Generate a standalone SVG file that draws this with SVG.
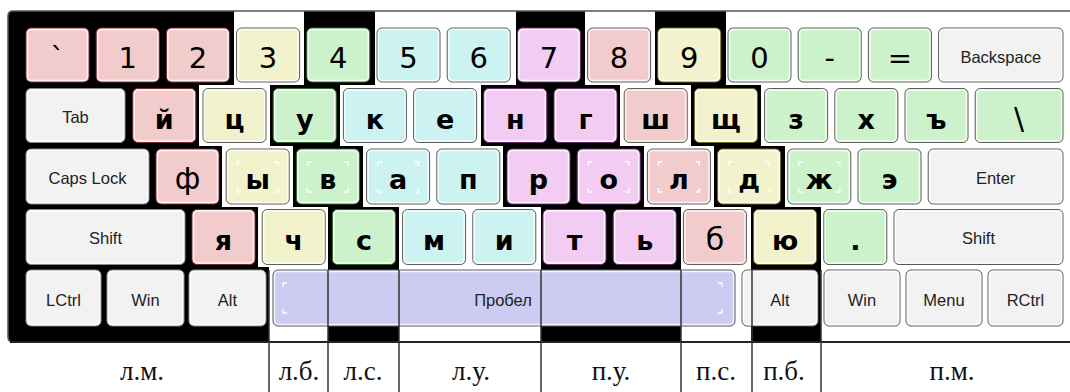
<svg xmlns="http://www.w3.org/2000/svg" width="1070" height="392" viewBox="0 0 1070 392">
<style>
.k{stroke:#5a5a5a;stroke-width:1}
.r{fill:#f2cccc}.y{fill:#f2f2cc}.g{fill:#ccf2cc}.c{fill:#ccf2f2}.m{fill:#f2ccf2}.w{fill:#f2f2f2}.s{fill:#ccccf2}
.bk.r{stroke:#7a2a2a}.bk.y{stroke:#6a6a20}.bk.g{stroke:#2a6a2a}.bk.m{stroke:#6a2a6a}.bk.w{stroke:#8a8a8a}
.in{fill:none;stroke:#fff;stroke-width:1.4;opacity:.8}
.d{font-family:"DejaVu Sans",Verdana,sans-serif;font-size:29px;fill:#000;text-anchor:middle}
.l{font-family:"DejaVu Sans",Verdana,sans-serif;font-size:27px;font-weight:bold;fill:#000;text-anchor:middle}
.lr{font-family:"DejaVu Sans",Verdana,sans-serif;font-size:30px;fill:#000;text-anchor:middle}
.t{font-family:"Liberation Sans",Arial,sans-serif;font-size:16.5px;fill:#222;text-anchor:middle}
.lab{font-family:"Liberation Serif","Times New Roman",serif;font-size:27px;fill:#111;text-anchor:middle}
.br{fill:none;stroke:#fff;stroke-width:1.3}
.sep{stroke:#333;stroke-width:1.5}
</style>
<g id="background">
<rect x="0" y="0" width="1070" height="392" fill="#fff"/>
<path d="M8,16 Q8,11 13,11 H234 V85 H199 V146 H222 V207 H258 V267 H269 V342 H13 Q8,342 8,337 Z" fill="#000"/>
<path d="M304,11 H375 V85 H340 V146 H363 V207 H399 V342 H328 V207 H293 V146 H270 V85 H304 Z" fill="#000"/>
<path d="M516,11 H585 V85 H620 V146 H644 V207 H681 V342 H541 V207 H503 V146 H481 V85 H516 Z" fill="#000"/>
<path d="M655,11 H726 V85 H761 V146 H785 V207 H821 V342 H751 V207 H714 V146 H691 V85 H655 Z" fill="#000"/>
<path d="M1070,11 H13 Q8,11 8,16 V337 Q8,342 13,342" fill="none" stroke="#555" stroke-width="1.5"/>
<line x1="10" y1="342" x2="1070" y2="342" stroke="#222" stroke-width="2"/>
</g>
<g id="row1">
<g id="k-grave"><rect class="k r bk" x="26" y="28" width="63" height="54" rx="5"/><rect class="in" x="27.5" y="29.5" width="60" height="51" rx="4"/><text class="d" x="57.5" y="68">`</text></g>
<g id="k-1"><rect class="k r bk" x="96.2" y="28" width="63" height="54" rx="5"/><rect class="in" x="97.7" y="29.5" width="60" height="51" rx="4"/><text class="d" x="127.7" y="68">1</text></g>
<g id="k-2"><rect class="k r bk" x="166.4" y="28" width="63" height="54" rx="5"/><rect class="in" x="167.9" y="29.5" width="60" height="51" rx="4"/><text class="d" x="197.9" y="68">2</text></g>
<g id="k-3"><rect class="k y" x="236.6" y="28" width="63" height="54" rx="5"/><rect class="in" x="238.1" y="29.5" width="60" height="51" rx="4"/><text class="d" x="268.1" y="68">3</text></g>
<g id="k-4"><rect class="k g bk" x="306.8" y="28" width="63" height="54" rx="5"/><rect class="in" x="308.3" y="29.5" width="60" height="51" rx="4"/><text class="d" x="338.3" y="68">4</text></g>
<g id="k-5"><rect class="k c" x="377" y="28" width="63" height="54" rx="5"/><rect class="in" x="378.5" y="29.5" width="60" height="51" rx="4"/><text class="d" x="408.5" y="68">5</text></g>
<g id="k-6"><rect class="k c" x="447.2" y="28" width="63" height="54" rx="5"/><rect class="in" x="448.7" y="29.5" width="60" height="51" rx="4"/><text class="d" x="478.7" y="68">6</text></g>
<g id="k-7"><rect class="k m bk" x="517.4" y="28" width="63" height="54" rx="5"/><rect class="in" x="518.9" y="29.5" width="60" height="51" rx="4"/><text class="d" x="548.9" y="68">7</text></g>
<g id="k-8"><rect class="k r" x="587.6" y="28" width="63" height="54" rx="5"/><rect class="in" x="589.1" y="29.5" width="60" height="51" rx="4"/><text class="d" x="619.1" y="68">8</text></g>
<g id="k-9"><rect class="k y bk" x="657.8" y="28" width="63" height="54" rx="5"/><rect class="in" x="659.3" y="29.5" width="60" height="51" rx="4"/><text class="d" x="689.3" y="68">9</text></g>
<g id="k-0"><rect class="k g" x="728" y="28" width="63" height="54" rx="5"/><rect class="in" x="729.5" y="29.5" width="60" height="51" rx="4"/><text class="d" x="759.5" y="68">0</text></g>
<g id="k-minus"><rect class="k g" x="798.2" y="28" width="63" height="54" rx="5"/><rect class="in" x="799.7" y="29.5" width="60" height="51" rx="4"/><text class="d" x="829.7" y="68">-</text></g>
<g id="k-equal"><rect class="k g" x="868.4" y="28" width="63" height="54" rx="5"/><rect class="in" x="869.9" y="29.5" width="60" height="51" rx="4"/><text class="d" x="899.9" y="68">=</text></g>
<g id="k-backspace"><rect class="k w" x="938.6" y="28" width="124.4" height="54" rx="5"/><rect class="in" x="940.1" y="29.5" width="121.4" height="51" rx="4"/><text class="t" x="1000.8" y="63">Backspace</text></g>
</g>
<g id="row2">
<g id="k-tab"><rect class="k w bk" x="26" y="88.5" width="99" height="54" rx="5"/><rect class="in" x="27.5" y="90" width="96" height="51" rx="4"/><text class="t" x="75.5" y="123">Tab</text></g>
<g id="k-j"><rect class="k r bk" x="132.8" y="88.5" width="63" height="54" rx="5"/><rect class="in" x="134.3" y="90" width="60" height="51" rx="4"/><text class="l" x="164.3" y="128.5">й</text></g>
<g id="k-ts"><rect class="k y" x="203" y="88.5" width="63" height="54" rx="5"/><rect class="in" x="204.5" y="90" width="60" height="51" rx="4"/><text class="l" x="234.5" y="128.5">ц</text></g>
<g id="k-u"><rect class="k g bk" x="273.2" y="88.5" width="63" height="54" rx="5"/><rect class="in" x="274.7" y="90" width="60" height="51" rx="4"/><text class="l" x="304.7" y="128.5">у</text></g>
<g id="k-k"><rect class="k c" x="343.4" y="88.5" width="63" height="54" rx="5"/><rect class="in" x="344.9" y="90" width="60" height="51" rx="4"/><text class="l" x="374.9" y="128.5">к</text></g>
<g id="k-e"><rect class="k c" x="413.6" y="88.5" width="63" height="54" rx="5"/><rect class="in" x="415.1" y="90" width="60" height="51" rx="4"/><text class="l" x="445.1" y="128.5">е</text></g>
<g id="k-n"><rect class="k m bk" x="483.8" y="88.5" width="63" height="54" rx="5"/><rect class="in" x="485.3" y="90" width="60" height="51" rx="4"/><text class="l" x="515.3" y="128.5">н</text></g>
<g id="k-g"><rect class="k m bk" x="554" y="88.5" width="63" height="54" rx="5"/><rect class="in" x="555.5" y="90" width="60" height="51" rx="4"/><text class="l" x="585.5" y="128.5">г</text></g>
<g id="k-sh"><rect class="k r" x="624.2" y="88.5" width="63" height="54" rx="5"/><rect class="in" x="625.7" y="90" width="60" height="51" rx="4"/><text class="l" x="655.7" y="128.5">ш</text></g>
<g id="k-shch"><rect class="k y bk" x="694.4" y="88.5" width="63" height="54" rx="5"/><rect class="in" x="695.9" y="90" width="60" height="51" rx="4"/><text class="l" x="725.9" y="128.5">щ</text></g>
<g id="k-z"><rect class="k g" x="764.6" y="88.5" width="63" height="54" rx="5"/><rect class="in" x="766.1" y="90" width="60" height="51" rx="4"/><text class="l" x="796.1" y="128.5">з</text></g>
<g id="k-h"><rect class="k g" x="834.8" y="88.5" width="63" height="54" rx="5"/><rect class="in" x="836.3" y="90" width="60" height="51" rx="4"/><text class="l" x="866.3" y="128.5">х</text></g>
<g id="k-hard"><rect class="k g" x="905" y="88.5" width="63" height="54" rx="5"/><rect class="in" x="906.5" y="90" width="60" height="51" rx="4"/><text class="l" x="936.5" y="128.5">ъ</text></g>
<g id="k-backslash"><rect class="k g" x="975.2" y="88.5" width="87.8" height="54" rx="5"/><rect class="in" x="976.7" y="90" width="84.8" height="51" rx="4"/><text class="lr" x="1019.1" y="129">\</text></g>
</g>
<g id="row3">
<g id="k-caps"><rect class="k w bk" x="26" y="149" width="123" height="55" rx="5"/><rect class="in" x="27.5" y="150.5" width="120" height="52" rx="4"/><text class="t" x="87.5" y="183.5">Caps Lock</text></g>
<g id="k-f"><rect class="k r bk" x="156" y="149" width="63" height="55" rx="5"/><rect class="in" x="157.5" y="150.5" width="60" height="52" rx="4"/><text class="lr" x="187.5" y="189">ф</text></g>
<g id="k-y"><rect class="k y" x="226.2" y="149" width="63" height="55" rx="5"/><rect class="in" x="227.7" y="150.5" width="60" height="52" rx="4"/><path class="br" d="M237.2,166V162H241.2M274.2,162H278.2V166M237.2,188V192H241.2M274.2,192H278.2V188"/><text class="l" x="257.7" y="189">ы</text></g>
<g id="k-v"><rect class="k g bk" x="296.4" y="149" width="63" height="55" rx="5"/><rect class="in" x="297.9" y="150.5" width="60" height="52" rx="4"/><path class="br" d="M307.4,166V162H311.4M344.4,162H348.4V166M307.4,188V192H311.4M344.4,192H348.4V188"/><text class="l" x="327.9" y="189">в</text></g>
<g id="k-a"><rect class="k c" x="366.6" y="149" width="63" height="55" rx="5"/><rect class="in" x="368.1" y="150.5" width="60" height="52" rx="4"/><path class="br" d="M377.6,166V162H381.6M414.6,162H418.6V166M377.6,188V192H381.6M414.6,192H418.6V188"/><text class="l" x="398.1" y="189">а</text></g>
<g id="k-p"><rect class="k c" x="436.8" y="149" width="63" height="55" rx="5"/><rect class="in" x="438.3" y="150.5" width="60" height="52" rx="4"/><text class="l" x="468.3" y="189">п</text></g>
<g id="k-r"><rect class="k m bk" x="507" y="149" width="63" height="55" rx="5"/><rect class="in" x="508.5" y="150.5" width="60" height="52" rx="4"/><text class="l" x="538.5" y="189">р</text></g>
<g id="k-o"><rect class="k m bk" x="577.2" y="149" width="63" height="55" rx="5"/><rect class="in" x="578.7" y="150.5" width="60" height="52" rx="4"/><path class="br" d="M588.2,166V162H592.2M625.2,162H629.2V166M588.2,188V192H592.2M625.2,192H629.2V188"/><text class="l" x="608.7" y="189">о</text></g>
<g id="k-l"><rect class="k r" x="647.4" y="149" width="63" height="55" rx="5"/><rect class="in" x="648.9" y="150.5" width="60" height="52" rx="4"/><path class="br" d="M658.4,166V162H662.4M695.4,162H699.4V166M658.4,188V192H662.4M695.4,192H699.4V188"/><text class="l" x="678.9" y="189">л</text></g>
<g id="k-d"><rect class="k y bk" x="717.6" y="149" width="63" height="55" rx="5"/><rect class="in" x="719.1" y="150.5" width="60" height="52" rx="4"/><path class="br" d="M728.6,166V162H732.6M765.6,162H769.6V166M728.6,188V192H732.6M765.6,192H769.6V188"/><text class="l" x="749.1" y="189">д</text></g>
<g id="k-zh"><rect class="k g" x="787.8" y="149" width="63" height="55" rx="5"/><rect class="in" x="789.3" y="150.5" width="60" height="52" rx="4"/><path class="br" d="M798.8,166V162H802.8M835.8,162H839.8V166M798.8,188V192H802.8M835.8,192H839.8V188"/><text class="l" x="819.3" y="189">ж</text></g>
<g id="k-eh"><rect class="k g" x="858" y="149" width="63" height="55" rx="5"/><rect class="in" x="859.5" y="150.5" width="60" height="52" rx="4"/><text class="l" x="889.5" y="189">э</text></g>
<g id="k-enter"><rect class="k w" x="928.2" y="149" width="134.8" height="55" rx="5"/><rect class="in" x="929.7" y="150.5" width="131.8" height="52" rx="4"/><text class="t" x="995.6" y="183.5">Enter</text></g>
</g>
<g id="row4">
<g id="k-lshift"><rect class="k w bk" x="26" y="209.5" width="159" height="55" rx="5"/><rect class="in" x="27.5" y="211" width="156" height="52" rx="4"/><text class="t" x="105.5" y="244">Shift</text></g>
<g id="k-ya"><rect class="k r bk" x="192" y="209.5" width="63" height="55" rx="5"/><rect class="in" x="193.5" y="211" width="60" height="52" rx="4"/><text class="l" x="223.5" y="249.5">я</text></g>
<g id="k-ch"><rect class="k y" x="262.2" y="209.5" width="63" height="55" rx="5"/><rect class="in" x="263.7" y="211" width="60" height="52" rx="4"/><text class="l" x="293.7" y="249.5">ч</text></g>
<g id="k-s"><rect class="k g bk" x="332.4" y="209.5" width="63" height="55" rx="5"/><rect class="in" x="333.9" y="211" width="60" height="52" rx="4"/><text class="l" x="363.9" y="249.5">с</text></g>
<g id="k-m"><rect class="k c" x="402.6" y="209.5" width="63" height="55" rx="5"/><rect class="in" x="404.1" y="211" width="60" height="52" rx="4"/><text class="l" x="434.1" y="249.5">м</text></g>
<g id="k-i"><rect class="k c" x="472.8" y="209.5" width="63" height="55" rx="5"/><rect class="in" x="474.3" y="211" width="60" height="52" rx="4"/><text class="l" x="504.3" y="249.5">и</text></g>
<g id="k-t"><rect class="k m bk" x="543" y="209.5" width="63" height="55" rx="5"/><rect class="in" x="544.5" y="211" width="60" height="52" rx="4"/><text class="l" x="574.5" y="249.5">т</text></g>
<g id="k-soft"><rect class="k m bk" x="613.2" y="209.5" width="63" height="55" rx="5"/><rect class="in" x="614.7" y="211" width="60" height="52" rx="4"/><text class="l" x="644.7" y="249.5">ь</text></g>
<g id="k-b"><rect class="k r" x="683.4" y="209.5" width="63" height="55" rx="5"/><rect class="in" x="684.9" y="211" width="60" height="52" rx="4"/><text class="lr" x="714.9" y="249.5">б</text></g>
<g id="k-yu"><rect class="k y bk" x="753.6" y="209.5" width="63" height="55" rx="5"/><rect class="in" x="755.1" y="211" width="60" height="52" rx="4"/><text class="l" x="785.1" y="249.5">ю</text></g>
<g id="k-dot"><rect class="k g" x="823.8" y="209.5" width="63" height="55" rx="5"/><rect class="in" x="825.3" y="211" width="60" height="52" rx="4"/><text class="l" x="855.3" y="250">.</text></g>
<g id="k-rshift"><rect class="k w" x="894" y="209.5" width="169" height="55" rx="5"/><rect class="in" x="895.5" y="211" width="166" height="52" rx="4"/><text class="t" x="978.5" y="244">Shift</text></g>
</g>
<g id="row5">
<g id="k-lctrl"><rect class="k w bk" x="26" y="270" width="75" height="56" rx="5"/><rect class="in" x="27.5" y="271.5" width="72" height="53" rx="4"/><text class="t" x="63.5" y="305.5">LCtrl</text></g>
<g id="k-lwin"><rect class="k w bk" x="107" y="270" width="77" height="56" rx="5"/><rect class="in" x="108.5" y="271.5" width="74" height="53" rx="4"/><text class="t" x="145.5" y="305.5">Win</text></g>
<g id="k-lalt"><rect class="k w bk" x="189" y="270" width="77" height="56" rx="5"/><rect class="in" x="190.5" y="271.5" width="74" height="53" rx="4"/><text class="t" x="227.5" y="305.5">Alt</text></g>
<g id="k-space"><rect class="k s" x="273" y="270" width="462" height="56" rx="5"/><rect class="in" x="274.5" y="271.5" width="459" height="53" rx="4"/><path class="br" d="M283,287V283H287M283,309V313H287M718,283H722V287M718,313H722V309"/><text class="t" x="503" y="306">Пробел</text></g>
<g id="k-ralt"><rect class="k w" x="742" y="270" width="76" height="56" rx="5"/><rect class="in" x="743.5" y="271.5" width="73" height="53" rx="4"/><text class="t" x="780" y="305.5">Alt</text></g>
<g id="k-rwin"><rect class="k w" x="824" y="270" width="76" height="56" rx="5"/><rect class="in" x="825.5" y="271.5" width="73" height="53" rx="4"/><text class="t" x="862" y="305.5">Win</text></g>
<g id="k-menu"><rect class="k w" x="906" y="270" width="76" height="56" rx="5"/><rect class="in" x="907.5" y="271.5" width="73" height="53" rx="4"/><text class="t" x="944" y="305.5">Menu</text></g>
<g id="k-rctrl"><rect class="k w" x="988" y="270" width="75" height="56" rx="5"/><rect class="in" x="989.5" y="271.5" width="72" height="53" rx="4"/><text class="t" x="1025.5" y="305.5">RCtrl</text></g>
</g>
<g id="connectors">
<line class="sep" x1="269" y1="270" x2="269" y2="392"/>
<line class="sep" x1="328" y1="270" x2="328" y2="392"/>
<line class="sep" x1="399" y1="270" x2="399" y2="392"/>
<line class="sep" x1="541" y1="270" x2="541" y2="392"/>
<line class="sep" x1="681" y1="270" x2="681" y2="392"/>
<line class="sep" x1="752" y1="270" x2="752" y2="392"/>
<line class="sep" x1="821" y1="270" x2="821" y2="392"/>
</g>
<g id="zone-labels">
<g id="lab-lm"><text class="lab" x="142" y="380">л.м.</text></g>
<g id="lab-lb"><text class="lab" x="299" y="380">л.б.</text></g>
<g id="lab-ls"><text class="lab" x="363" y="380">л.с.</text></g>
<g id="lab-lu"><text class="lab" x="471" y="380">л.у.</text></g>
<g id="lab-pu"><text class="lab" x="611" y="380">п.у.</text></g>
<g id="lab-ps"><text class="lab" x="716" y="380">п.с.</text></g>
<g id="lab-pb"><text class="lab" x="784" y="380">п.б.</text></g>
<g id="lab-pm"><text class="lab" x="952" y="380">п.м.</text></g>
</g>
</svg>
